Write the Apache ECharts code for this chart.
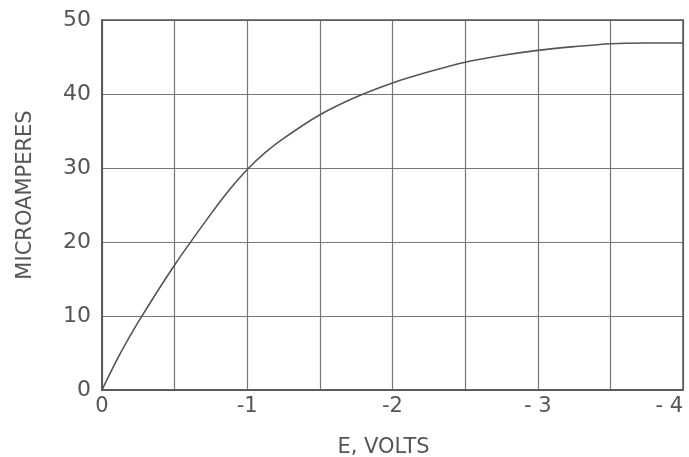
<!DOCTYPE html>
<html>
<head>
<meta charset="utf-8">
<script src="https://cdn.jsdelivr.net/npm/echarts@6/dist/echarts.min.js"></script>
<style>
  html, body { margin: 0; padding: 0; background: #fff; }
  #chart { width: 689px; height: 457px; }
</style>
</head>
<body>
<div id="chart"></div>
<script>
// 读图得到的数据
var volts = [0, -0.125, -0.25, -0.5, -0.75, -0.875, -1, -1.125, -1.25, -1.5, -1.75, -2, -2.25, -2.5, -2.75, -3, -3.25, -3.5, -3.75, -4];
var microamps = [0, 4.9, 9.2, 16.9, 23.8, 27.0, 29.8, 32.1, 34.0, 37.2, 39.6, 41.5, 43, 44.3, 45.2, 45.9, 46.4, 46.8, 46.9, 46.9];
var xTickLabels = ["0", "-1", "-2", "- 3", "- 4"];

var myChart = echarts.init(document.getElementById("chart"));
var ink = "#555";
var points = volts.map(function (v, i) { return [v, microamps[i]]; });

var option = {
  animation: false,
  backgroundColor: "#fff",
  textStyle: { fontFamily: "DejaVu Sans" },
  grid: { left: 102, right: 6, top: 20, bottom: 67, outerBoundsMode: "none", containLabel: false },
  xAxis: {
    type: "value",
    min: -4,
    max: 0,
    interval: 0.5,
    inverse: true,
    name: "E, VOLTS",
    nameLocation: "middle",
    nameGap: 47,
    nameTextStyle: { fontSize: 21, color: ink, padding: [0, 18, 0, 0] },
    axisLine: { show: true, lineStyle: { color: ink, width: 1.5 } },
    axisTick: { show: false },
    splitLine: { show: true, lineStyle: { color: "#777", width: 1.2 } },
    axisLabel: {
      fontSize: 21,
      color: ink,
      margin: 6,
      alignMinLabel: "right",
      formatter: function (v) {
        if (Number.isInteger(v)) return xTickLabels[Math.abs(v)];
        return "";
      }
    }
  },
  yAxis: {
    type: "value",
    min: 0,
    max: 50,
    interval: 10,
    name: "MICROAMPERES",
    nameLocation: "middle",
    nameGap: 66,
    nameTextStyle: { fontSize: 21, color: ink, padding: [0, 0, 0, 20] },
    axisLine: { show: true, lineStyle: { color: ink, width: 1.5 } },
    axisTick: { show: false },
    splitLine: { show: true, lineStyle: { color: "#777", width: 1.2 } },
    axisLabel: { fontSize: 22, color: ink, margin: 11 }
  },
  series: [
    {
      type: "line",
      data: points,
      smooth: 0.3,
      showSymbol: false,
      lineStyle: { color: ink, width: 1.6 }
    }
  ]
};
myChart.setOption(option);

// 外框（右、上边）
myChart.setOption({
  graphic: [{
    type: "rect",
    shape: { x: 102, y: 20, width: 581, height: 370 },
    style: { fill: null, stroke: ink, lineWidth: 1.5 },
    silent: true
  }]
});
</script>
</body>
</html>
